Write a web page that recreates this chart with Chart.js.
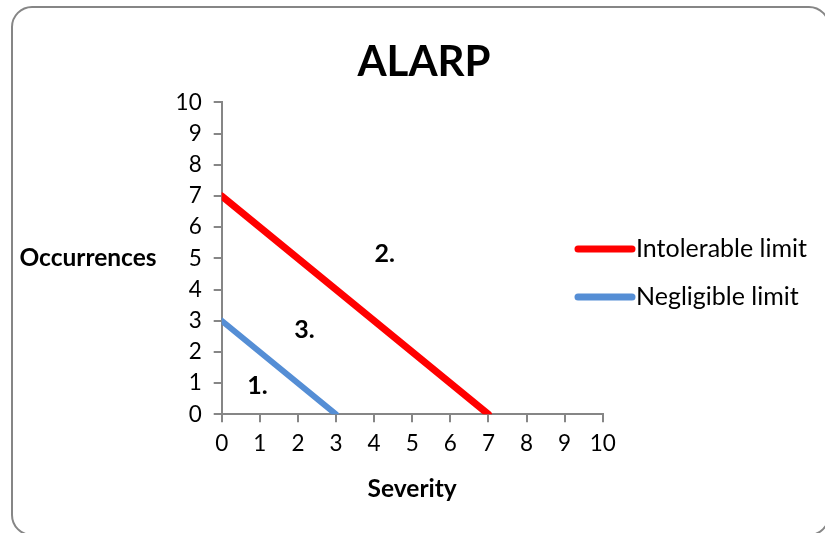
<!DOCTYPE html>
<html>
<head>
<meta charset="utf-8">
<script src="https://cdn.jsdelivr.net/npm/chart.js@4/dist/chart.umd.min.js"></script>
<style>
  html, body { margin: 0; padding: 0; background: #ffffff; }
  #wrap { width: 825px; height: 533px; position: relative; }
</style>
</head>
<body>
<div id="wrap"><canvas id="chart" width="825" height="533"></canvas></div>
<script>
// Risk limits: occurrence vs severity
const axisTicks = [0, 1, 2, 3, 4, 5, 6, 7, 8, 9, 10];
const intolerableSeverity = [0, 7];
const intolerableOccurrences = [7, 0];
const negligibleSeverity = [0, 3];
const negligibleOccurrences = [3, 0];

// Region markers, in severity / occurrence units
const regionNames = ['1.', '2.', '3.'];
const regionSeverity = [0.94, 4.28, 2.17];
const regionOccurrences = [0.9, 5.15, 2.7];

const FONT = 'Lato, "Open Sans", sans-serif';
const AXIS_GREY = '#868686';

function toPoints(xs, ys) {
  return xs.map((x, i) => ({ x: x, y: ys[i] }));
}

const decorations = {
  id: 'decorations',
  beforeDraw(chart) {
    const ctx = chart.ctx;
    ctx.save();
    ctx.fillStyle = '#ffffff';
    ctx.fillRect(0, 0, chart.width, chart.height);
    // rounded outer frame
    ctx.strokeStyle = AXIS_GREY;
    ctx.lineWidth = 2;
    ctx.beginPath();
    ctx.roundRect(12, 7, 817, 528, 20);
    ctx.stroke();
    ctx.restore();
  },
  afterDatasetsDraw(chart) {
    const ctx = chart.ctx;
    const xs = chart.scales.x, ys = chart.scales.y;
    ctx.save();
    ctx.fillStyle = '#000000';
    ctx.font = 'bold 25px ' + FONT;
    ctx.textAlign = 'center';
    ctx.textBaseline = 'middle';
    regionNames.forEach((name, i) => {
      ctx.fillText(name, xs.getPixelForValue(regionSeverity[i]), ys.getPixelForValue(regionOccurrences[i]));
    });
    ctx.restore();
  },
  afterDraw(chart) {
    const ctx = chart.ctx;
    const area = chart.chartArea;
    ctx.save();
    // horizontal y-axis title
    ctx.fillStyle = '#000000';
    ctx.font = 'bold 24.5px ' + FONT;
    ctx.textAlign = 'center';
    ctx.textBaseline = 'middle';
    ctx.fillText('Occurrences', 88, (area.top + area.bottom) / 2);

    // legend
    const lx = 578, lw = 54, rowTop = 249, rowGap = 48;
    ctx.font = '25px ' + FONT;
    ctx.textAlign = 'left';
    chart.data.datasets.forEach((ds, i) => {
      const y = rowTop + i * rowGap;
      ctx.strokeStyle = ds.borderColor;
      ctx.lineWidth = 7;
      ctx.lineCap = 'round';
      ctx.beginPath();
      ctx.moveTo(lx, y);
      ctx.lineTo(lx + lw, y);
      ctx.stroke();
      ctx.fillStyle = '#000000';
      ctx.fillText(ds.label, lx + lw + 4, y);
    });
    ctx.restore();
  }
};

function axisOptions(extra) {
  return Object.assign({
    type: 'linear',
    min: 0,
    max: 10,
    afterBuildTicks(scale) {
      scale.ticks = axisTicks.map(v => ({ value: v }));
    },
    grid: {
      display: true,
      drawOnChartArea: false,
      drawTicks: true,
      tickLength: 8,
      color: AXIS_GREY,
      lineWidth: 2
    },
    border: { display: true, color: AXIS_GREY, width: 2 }
  }, extra);
}

new Chart(document.getElementById('chart'), {
  type: 'scatter',
  data: {
    datasets: [
      {
        label: 'Intolerable limit',
        data: toPoints(intolerableSeverity, intolerableOccurrences),
        showLine: true,
        borderColor: '#ff0000',
        backgroundColor: '#ff0000',
        borderWidth: 7,
        borderCapStyle: 'round',
        pointRadius: 0,
        pointHoverRadius: 0
      },
      {
        label: 'Negligible limit',
        data: toPoints(negligibleSeverity, negligibleOccurrences),
        showLine: true,
        borderColor: '#558ed5',
        backgroundColor: '#558ed5',
        borderWidth: 6,
        borderCapStyle: 'round',
        pointRadius: 0,
        pointHoverRadius: 0
      }
    ]
  },
  options: {
    responsive: false,
    animation: false,
    devicePixelRatio: 1,
    layout: { padding: { left: 23, right: 0, top: 0, bottom: 0 } },
    plugins: {
      legend: { display: false },
      tooltip: { enabled: false },
      title: {
        display: true,
        text: 'ALARP',
        color: '#000000',
        font: { family: FONT, size: 42, weight: 'bold', lineHeight: 1.2 },
        padding: { top: 37, bottom: 15 }
      }
    },
    scales: {
      x: axisOptions({
        position: 'bottom',
        ticks: { color: '#000000', font: { family: FONT, size: 22.5 }, padding: 8, maxRotation: 0 },
        title: {
          display: true,
          text: 'Severity',
          color: '#000000',
          font: { family: FONT, size: 24.5, weight: 'bold' },
          padding: { top: 0, bottom: 29 }
        },
        afterFit(scale) { scale.height = 118.7; }
      }),
      y: axisOptions({
        position: 'left',
        ticks: { color: '#000000', font: { family: FONT, size: 22.5 }, padding: 12 },
        afterFit(scale) { scale.width = 198.7; }
      }),
      legendColumn: {
        type: 'linear',
        position: 'right',
        display: true,
        grid: { display: false },
        border: { display: false },
        ticks: { display: false },
        afterFit(scale) { scale.width = 222.3; }
      }
    }
  },
  plugins: [decorations]
});
</script>
</body>
</html>
